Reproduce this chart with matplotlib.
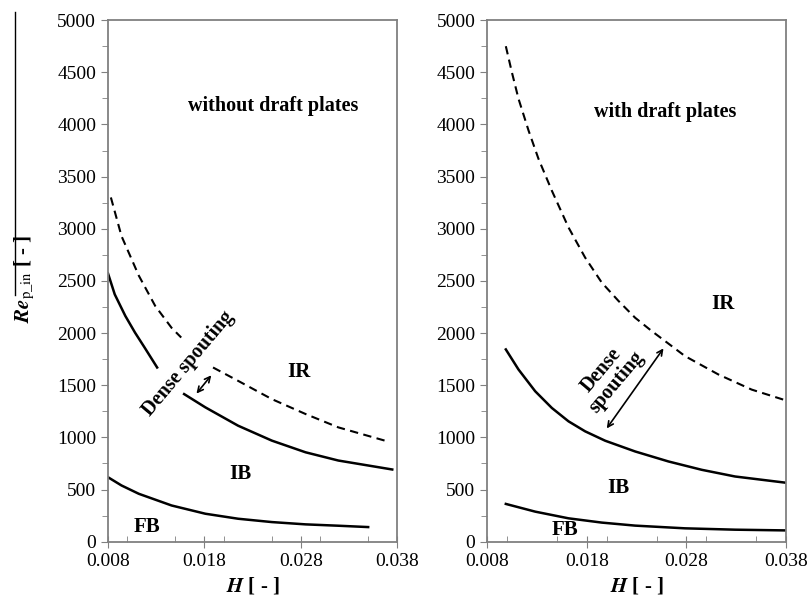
import numpy as np
import matplotlib
matplotlib.use("Agg")
import matplotlib.pyplot as plt
from matplotlib.ticker import MultipleLocator
from matplotlib.lines import Line2D

plt.rcParams['font.family'] = ['Liberation Serif', 'DejaVu Serif']
plt.rcParams['mathtext.fontset'] = 'stix'

# left panel: without draft plates
l_ir1_h = [0.0083, 0.0094, 0.0112, 0.0129, 0.0146, 0.0156]
l_ir1_re = [3300, 2930, 2550, 2260, 2050, 1957]
l_ir2_h = [0.0189, 0.0215, 0.0250, 0.0285, 0.0319, 0.0371]
l_ir2_re = [1670, 1542, 1367, 1224, 1096, 959]
l_ib1_h = [0.0080, 0.0087, 0.0098, 0.0108, 0.0118, 0.0131]
l_ib1_re = [2572, 2371, 2164, 2005, 1861, 1670]
l_ib2_h = [0.0159, 0.0181, 0.0215, 0.0250, 0.0285, 0.0319, 0.0375]
l_ib2_re = [1415, 1288, 1112, 969, 857, 778, 692]
l_fb_h = [0.0080, 0.0094, 0.0112, 0.0146, 0.0181, 0.0215, 0.0250, 0.0285, 0.0319, 0.0350]
l_fb_re = [618, 539, 459, 347, 268, 220, 188, 166, 153, 140]

# right panel: with draft plates
r_ir_h = [0.00987, 0.01047, 0.01114, 0.01215, 0.01315, 0.01449, 0.01616, 0.01783, 0.0195,
          0.02118, 0.02285, 0.02452, 0.02586, 0.02786, 0.03121, 0.03455, 0.03773]
r_ir_re = [4750, 4503, 4247, 3942, 3670, 3365, 3013, 2724, 2484,
           2308, 2147, 2019, 1923, 1779, 1603, 1458, 1362]
r_ib_h = [0.00987, 0.01114, 0.01282, 0.01449, 0.01616, 0.01783, 0.01984, 0.02285, 0.0262,
          0.02954, 0.03288, 0.0380]
r_ib_re = [1843, 1651, 1442, 1282, 1154, 1058, 968, 865, 769, 689, 625, 565]
r_fb_h = [0.00987, 0.01282, 0.01616, 0.0195, 0.02285, 0.02786, 0.03288, 0.0380]
r_fb_re = [362, 288, 224, 183, 154, 128, 115, 108]

fig = plt.figure(figsize=(8.12, 6.10), dpi=100)
ax1 = fig.add_axes([0.133, 0.112, 0.356, 0.855])
ax2 = fig.add_axes([0.600, 0.112, 0.368, 0.855])

lw = 1.8
dash = dict(lw=1.5, dashes=(4, 2.6))
ax1.plot(l_ir1_h, l_ir1_re, 'k--', **dash)
ax1.plot(l_ir2_h, l_ir2_re, 'k--', **dash)
ax1.plot(l_ib1_h, l_ib1_re, 'k-', lw=lw)
ax1.plot(l_ib2_h, l_ib2_re, 'k-', lw=lw)
ax1.plot(l_fb_h, l_fb_re, 'k-', lw=lw)

ax2.plot(r_ir_h, r_ir_re, 'k--', **dash)
ax2.plot(r_ib_h, r_ib_re, 'k-', lw=lw)
ax2.plot(r_fb_h, r_fb_re, 'k-', lw=lw)

bold = dict(fontweight='bold', fontsize=15, ha='center', va='center')
ax1.text(0.0251, 4180, 'without draft plates', **dict(bold, fontsize=14.5))
ax1.text(0.0278, 1622, 'IR', **bold)
ax1.text(0.0217, 650, 'IB', **bold)
ax1.text(0.0120, 140, 'FB', **bold)
ax1.text(0.0163, 1711, 'Dense spouting', rotation=50, **dict(bold, fontsize=14.5))
ax1.annotate('', xy=(0.0189, 1616), xytext=(0.0170, 1399),
             arrowprops=dict(arrowstyle='<->', color='k', lw=1.2))

ax2.text(0.0259, 4119, 'with draft plates', **dict(bold, fontsize=14.5))
ax2.text(0.0317, 2276, 'IR', **bold)
ax2.text(0.0212, 513, 'IB', **bold)
ax2.text(0.0158, 112, 'FB', **bold)
ax2.text(0.0202, 1586, 'Dense\nspouting', rotation=50, linespacing=1.0,
         **dict(bold, fontsize=14.5))
ax2.annotate('', xy=(0.02586, 1875), xytext=(0.01984, 1064),
             arrowprops=dict(arrowstyle='<->', color='k', lw=1.2))

for ax in (ax1, ax2):
    ax.set_xlim(0.008, 0.038)
    ax.set_ylim(0, 5000)
    ax.set_xticks([0.008, 0.018, 0.028, 0.038])
    ax.set_xticklabels(['0.008', '0.018', '0.028', '0.038'])
    ax.xaxis.set_minor_locator(MultipleLocator(0.005))
    ax.yaxis.set_major_locator(MultipleLocator(500))
    ax.yaxis.set_minor_locator(MultipleLocator(250))
    ax.tick_params(axis='x', which='major', direction='inout', length=8,
                   color='#808080', labelsize=14, pad=4)
    ax.tick_params(axis='x', which='minor', direction='in', length=4, color='#808080')
    ax.tick_params(axis='y', which='both', direction='out', color='#808080', labelsize=14)
    ax.tick_params(axis='y', which='major', length=5)
    ax.tick_params(axis='y', which='minor', length=4)
    for s in ax.spines.values():
        s.set_color('#808080')
        s.set_linewidth(1.3)
    ax.set_xlabel(r'$\mathbfit{H}$ [ - ]', fontsize=15, fontweight='bold', labelpad=4)

fig.text(0.031, 0.543, r'$\mathbfit{Re}_{\mathrm{p\_in}}$ [ - ]', fontweight='bold',
         rotation=90, fontsize=15, ha='center', va='center')
fig.add_artist(Line2D([0.0185, 0.0185], [0.516, 0.980], color='k', lw=1.0,
                      transform=fig.transFigure))

fig.savefig('out.png', dpi=100)
